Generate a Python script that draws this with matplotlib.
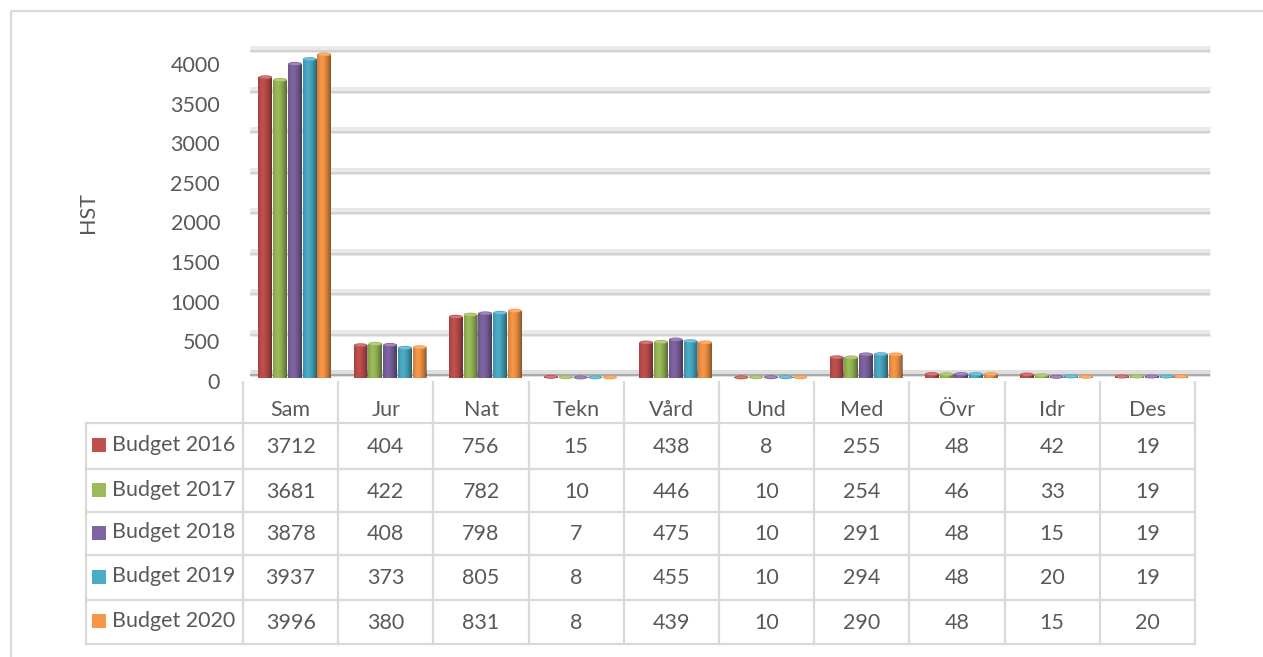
import matplotlib
matplotlib.use("Agg")
import matplotlib.pyplot as plt
import matplotlib.transforms as mtransforms
from matplotlib.patches import Ellipse, Rectangle
import numpy as np

# ---------------------------------------------------------------------------
# Data
# ---------------------------------------------------------------------------
categories = ["Sam", "Jur", "Nat", "Tekn", "Vård", "Und", "Med", "Övr", "Idr", "Des"]
series_names = ["Budget 2016", "Budget 2017", "Budget 2018", "Budget 2019", "Budget 2020"]
budget_2016 = [3712, 404, 756, 15, 438, 8, 255, 48, 42, 19]
budget_2017 = [3681, 422, 782, 10, 446, 10, 254, 46, 33, 19]
budget_2018 = [3878, 408, 798, 7, 475, 10, 291, 48, 15, 19]
budget_2019 = [3937, 373, 805, 8, 455, 10, 294, 48, 20, 19]
budget_2020 = [3996, 380, 831, 8, 439, 10, 290, 48, 15, 20]
series_values = [budget_2016, budget_2017, budget_2018, budget_2019, budget_2020]
y_ticks = [0, 500, 1000, 1500, 2000, 2500, 3000, 3500, 4000]
y_label = "HST"

colors = ["#c0504d", "#9bbb59", "#8064a2", "#4bacc6", "#f79646"]
text_color = "#595959"
line_gray = "#d9d9d9"

W, H = 1263, 657
plt.rcParams["font.family"] = ["Lato", "DejaVu Sans"]

fig = plt.figure(figsize=(W / 100, H / 100), dpi=100)


def px_off(dx, dy):
    # pixel offset (y positive = up)
    return mtransforms.ScaledTranslation(dx / 100, dy / 100, fig.dpi_scale_trans)


# canvas axes in pixel coords for border + table
canvas = fig.add_axes([0, 0, 1, 1])
canvas.set_xlim(0, W)
canvas.set_ylim(H, 0)
canvas.axis("off")

# outer chart border
canvas.plot([11, 11], [H + 5, 11], color=line_gray, lw=1.6, solid_capstyle="butt")
canvas.plot([11, W + 5], [11, 11], color=line_gray, lw=1.6, solid_capstyle="butt")

# ---------------------------------------------------------------------------
# Bar axes
# ---------------------------------------------------------------------------
col_left, col_w = 243, 95.2
ax_left, ax_right = 243, 1210
y0_px, y4000_px = 378, 54
ax = fig.add_axes([ax_left / W, 1 - y0_px / H, (ax_right - ax_left) / W, (y0_px - y4000_px) / H])
ax.set_xlim(0, (ax_right - ax_left) / col_w)
ax.set_ylim(0, 4000)
ax.axis("off")
ax.patch.set_alpha(0)

# back-wall gridlines (slightly above the front scale, 3D look)
ytr = ax.get_yaxis_transform()
for v in y_ticks:
    band = "#e9e9e9" if v else "#dedede"
    edge = "#d2d2d2" if v else "#a9a9a9"
    ax.plot([0.007, 1], [v, v], transform=ytr + px_off(0, 5), color=band, lw=5,
            solid_capstyle="butt", clip_on=False, zorder=0)
    ax.plot([0.007, 1], [v, v], transform=ytr + px_off(0, 3), color=edge, lw=1.4,
            solid_capstyle="butt", clip_on=False, zorder=0)

# y tick labels (front, slightly lower)
lab_x = (220 - ax_left) / (ax_right - ax_left)
for v in y_ticks:
    ax.text(lab_x, v, str(v), transform=ytr + px_off(0, -(5 + 7 * v / 4000)),
            ha="right", va="center", fontsize=15.5, color=text_color, clip_on=False)

ax.text((88 - ax_left) / (ax_right - ax_left), 2000, y_label, transform=ytr + px_off(0, 3),
        rotation=90, ha="center", va="center", fontsize=15.5, color=text_color)

# bars
x = np.arange(len(categories)) + 0.5
pitch = 0.155
bw = 0.145
shift = 0.045
px_per_unit = (y0_px - y4000_px) / 4000.0
cap_h = 4.0 / px_per_unit

shade = np.zeros((1, 64, 4))
g = np.linspace(0, 1, 64)
shade[0, :, 3] = 0.45 * np.clip(np.abs(g - 0.35) / 0.65, 0, 1) ** 1.6

for i, (vals, c) in enumerate(zip(series_values, colors)):
    xs = x + shift + (i - 2) * pitch
    bars = ax.bar(xs, vals, width=bw, color=c, edgecolor="none", zorder=3)
    for b, v in zip(bars, vals):
        im = ax.imshow(shade, extent=[b.get_x(), b.get_x() + bw, 0, v], aspect="auto",
                       zorder=3.5, interpolation="bilinear")
        im.set_clip_path(b)
        ax.add_patch(Ellipse((b.get_x() + bw / 2, v), bw, cap_h, facecolor=c, edgecolor="none",
                             zorder=4, clip_on=False))
        ax.add_patch(Ellipse((b.get_x() + bw / 2, v), bw * 0.8, cap_h * 0.6, facecolor="white",
                             alpha=0.25, edgecolor="none", zorder=4.2, clip_on=False))
ax.set_xlim(0, (ax_right - ax_left) / col_w)
ax.set_ylim(0, 4000)

# ---------------------------------------------------------------------------
# Data table
# ---------------------------------------------------------------------------
n = len(categories)
table_right = col_left + n * col_w
row_edges = [423, 469, 512, 555, 600, 644]
head_top = 382

for yy in row_edges:
    canvas.plot([86, table_right], [yy, yy], color=line_gray, lw=1.6, solid_capstyle="butt")
canvas.plot([86, 86], [row_edges[0], row_edges[-1]], color=line_gray, lw=1.6)
for j in range(n + 1):
    xx = col_left + j * col_w
    canvas.plot([xx, xx], [head_top, row_edges[-1]], color=line_gray, lw=1.6)

for j, cat in enumerate(categories):
    canvas.text(col_left + (j + 0.5) * col_w, 410, cat, ha="center", va="center",
                fontsize=15.5, color=text_color)

for r, (name, vals, c) in enumerate(zip(series_names, series_values, colors)):
    yc = (row_edges[r] + row_edges[r + 1]) / 2
    canvas.add_patch(Rectangle((92, yc - 8), 14, 14, facecolor=c, edgecolor="none"))
    canvas.text(112, yc - 1, name, ha="left", va="center", fontsize=15.5, color=text_color)
    for j, v in enumerate(vals):
        canvas.text(col_left + (j + 0.5) * col_w, yc + 1, str(v), ha="center", va="center",
                    fontsize=15.5, color=text_color)

fig.savefig("out.png", dpi=100, facecolor="white")
